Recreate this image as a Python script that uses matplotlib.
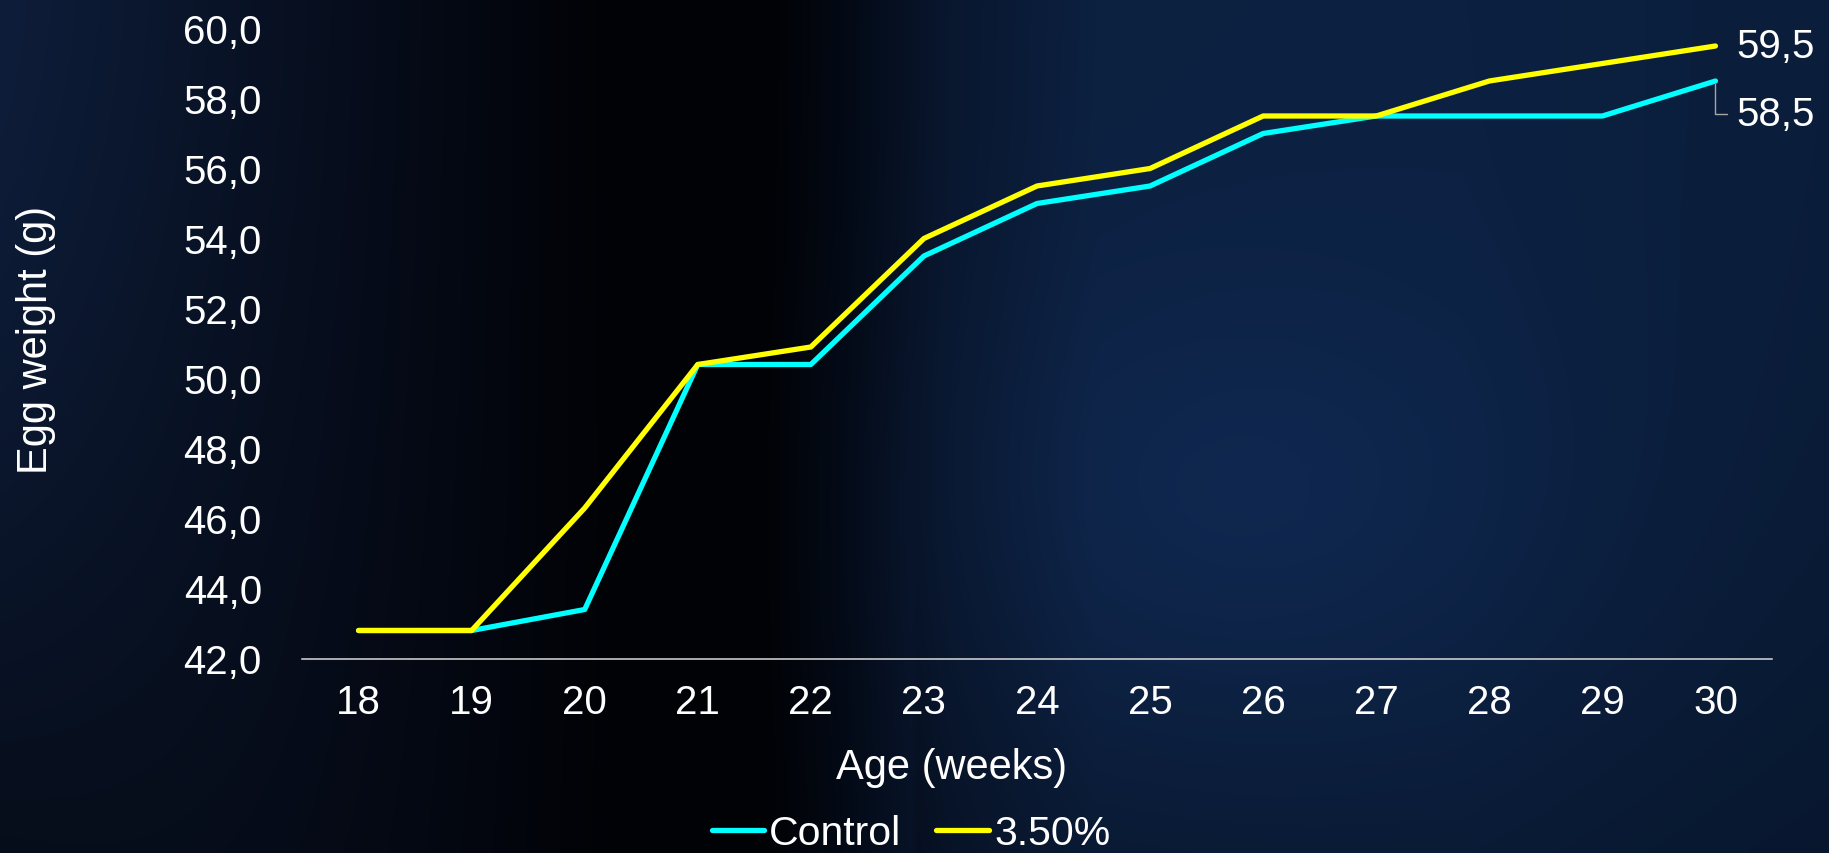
import numpy as np
import matplotlib
matplotlib.use("Agg")
import matplotlib.pyplot as plt
from matplotlib.ticker import FuncFormatter

plt.rcParams['font.family'] = ['Liberation Sans', 'DejaVu Sans']

# Egg weight by age
weeks = [18, 19, 20, 21, 22, 23, 24, 25, 26, 27, 28, 29, 30]
control = [42.8, 42.8, 43.4, 50.4, 50.4, 53.5, 55.0, 55.5, 57.0, 57.5, 57.5, 57.5, 58.5]
treated = [42.8, 42.8, 46.3, 50.4, 50.9, 54.0, 55.5, 56.0, 57.5, 57.5, 58.5, 59.0, 59.5]
series_names = ["Control", "3.50%"]
series_colors = ["#00FFFF", "#FFFF00"]

W, H, DPI = 1829, 854, 100
fig = plt.figure(figsize=(W / DPI, H / DPI), dpi=DPI)

# night-sky backdrop: navy on both sides with a dark band left of centre
bg_ax = fig.add_axes([0, 0, 1, 1], zorder=-10)
bg_ax.set_axis_off()
nx, ny = 400, 200
xx, yy = np.meshgrid(np.linspace(0, 1, nx), np.linspace(0, 1, ny))
stops = [0.0, 0.08, 0.18, 0.28, 0.34, 0.42, 0.46, 0.52, 0.6, 0.8, 1.0]
R = [14, 11, 7, 3, 1, 1, 3, 9, 12, 12, 10]
G = [29, 23, 14, 6, 2, 2, 9, 23, 32, 33, 29]
B = [58, 46, 30, 14, 5, 5, 20, 47, 64, 66, 58]
img = np.zeros((ny, nx, 3))
for i, ch in enumerate([R, G, B]):
    img[..., i] = np.interp(xx, stops, ch)
left = np.clip((0.35 - xx) / 0.35, 0, 1)
img *= (1 - 0.55 * left * yy ** 1.5)[..., None]
img *= (1 - 0.2 * yy ** 2 * (xx > 0.5))[..., None]
blob = np.exp(-((xx - 0.68) ** 2 / 0.03 + (yy - 0.6) ** 2 / 0.08))
img += blob[..., None] * np.array([4, 9, 18])
bg_ax.imshow(np.clip(img / 255, 0, 1), extent=[0, 1, 0, 1], aspect='auto',
             interpolation='bicubic')
bg_ax.set_xlim(0, 1)
bg_ax.set_ylim(0, 1)

left_px, right_px, top_px, bottom_px = 302, 1772, 29.5, 659.5
ax = fig.add_axes([left_px / W, 1 - bottom_px / H,
                   (right_px - left_px) / W, (bottom_px - top_px) / H])
ax.set_facecolor('none')

x = np.arange(len(weeks))
lw = 3.8
for vals, name, col in zip([control, treated], series_names, series_colors):
    ax.plot(x, vals, color=col, lw=lw, label=name,
            solid_capstyle='round', solid_joinstyle='round')

ax.set_xlim(-0.5, len(weeks) - 0.5)
ax.set_ylim(42, 60)
ax.set_yticks(np.arange(42, 60.1, 2))
ax.yaxis.set_major_formatter(FuncFormatter(lambda v, p: f"{v:.1f}".replace('.', ',')))
ax.set_xticks(x)
ax.set_xticklabels([str(w) for w in weeks])

for s in ['top', 'right', 'left']:
    ax.spines[s].set_visible(False)
ax.spines['bottom'].set_color('#d9d9d9')
ax.spines['bottom'].set_linewidth(1.1)

ax.tick_params(axis='both', length=0, colors='white', labelsize=29)
ax.tick_params(axis='x', pad=18)
ax.tick_params(axis='y', pad=28.8)

ax.set_ylabel("Egg weight (g)", color='white', fontsize=30)
ax.yaxis.label.set_va('center')
ax.yaxis.set_label_coords(-0.181, 0.507)
ax.set_xlabel("Age (weeks)", color='white', fontsize=30)
ax.xaxis.label.set_va('center')
ax.xaxis.set_label_coords(0.442, -0.173)

# end-point value labels
fmt = lambda v: f"{v:.1f}".replace('.', ',')
ax.annotate(fmt(treated[-1]), xy=(x[-1], treated[-1]), xytext=(15, 0),
            textcoords='offset points', ha='left', va='center',
            color='white', fontsize=29)
ax.annotate(fmt(control[-1]), xy=(x[-1], control[-1]), xytext=(15, -24),
            textcoords='offset points', ha='left', va='center',
            color='white', fontsize=29,
            arrowprops=dict(arrowstyle='-', color='#a6a6a6', lw=1,
                            connectionstyle='angle,angleA=0,angleB=90,rad=0',
                            relpos=(0, 0.5), shrinkA=5, shrinkB=2))

leg = ax.legend(loc='center', bbox_to_anchor=(911 / W, 1 - 834 / H),
                bbox_transform=fig.transFigure, ncol=2, frameon=False,
                fontsize=29.5, handlelength=1.29, handletextpad=0.12,
                columnspacing=0.85, borderpad=0, borderaxespad=0)
for t in leg.get_texts():
    t.set_color('white')
for h in leg.legend_handles:
    h.set_solid_capstyle('round')

fig.savefig('out.png', dpi=DPI)
